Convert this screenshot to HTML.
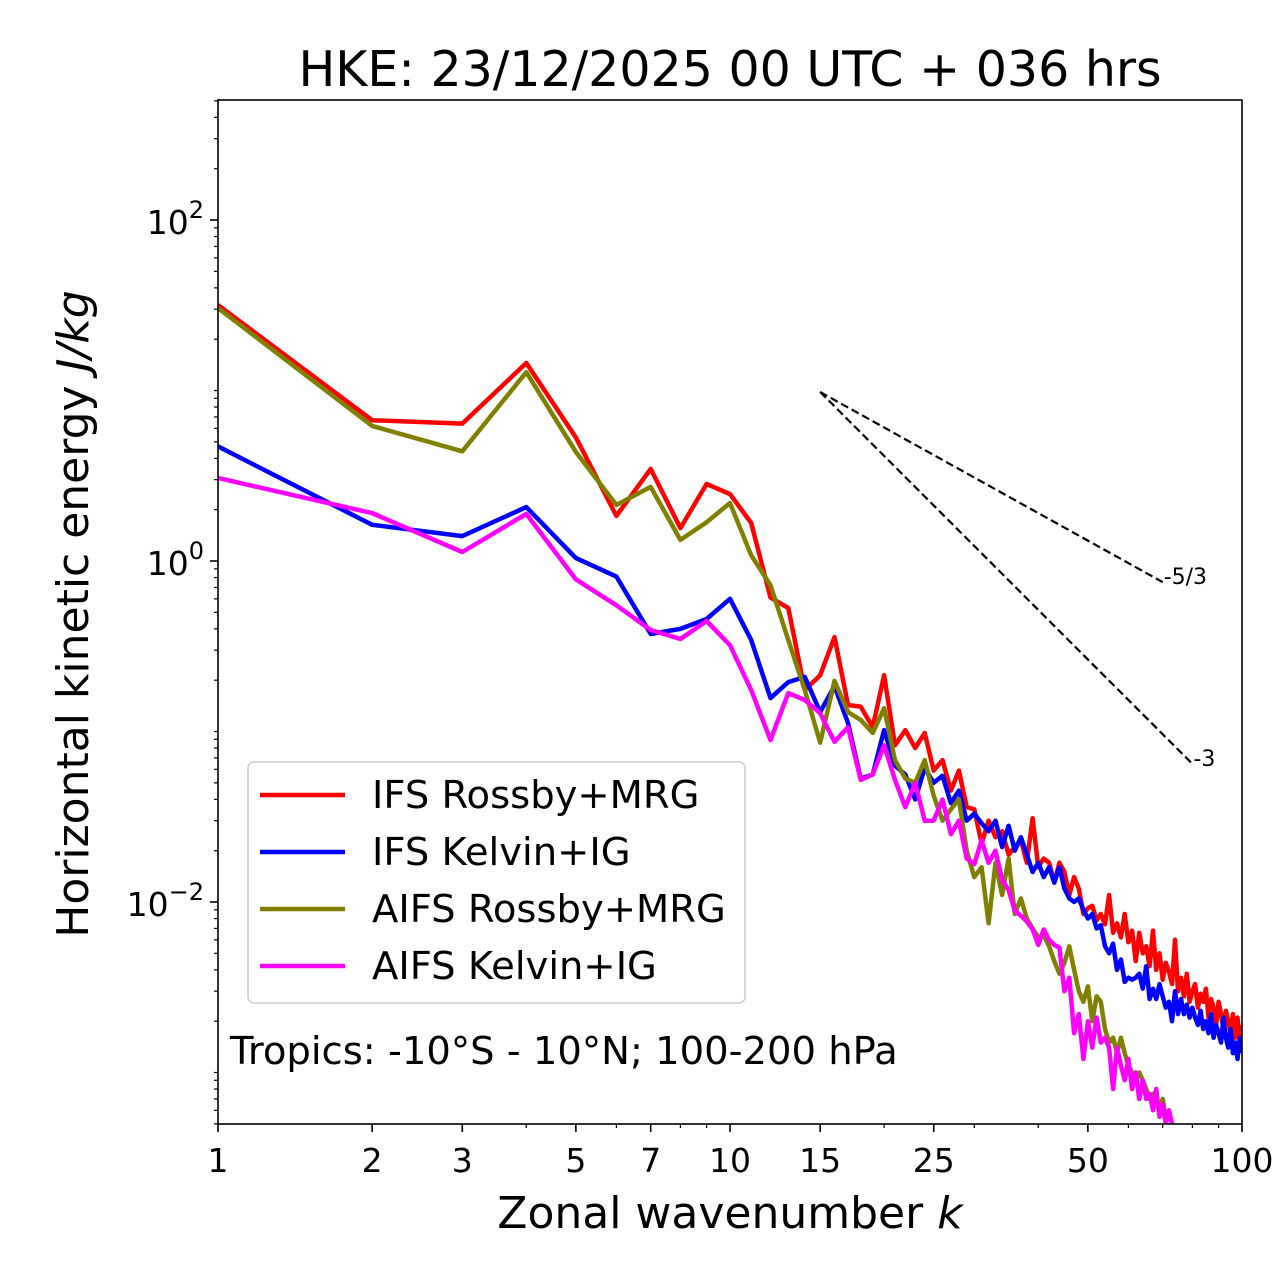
<!DOCTYPE html>
<html><head><meta charset="utf-8"><style>
html,body{margin:0;padding:0;background:#fff;}
svg{display:block;font-family:"DejaVu Sans","Liberation Sans",sans-serif;}
</style></head><body>
<svg id="chart" width="1280" height="1288" viewBox="0 0 1280 1288">
<defs><clipPath id="plotclip"><rect x="218" y="100" width="1024" height="1024"/></clipPath></defs>
<text x="730" y="86" font-size="49" text-anchor="middle">HKE: 23/12/2025 00 UTC + 036 hrs</text>
<g id="series" clip-path="url(#plotclip)"></g>
<rect x="218" y="100" width="1024" height="1024" fill="none" stroke="#000" stroke-width="1.6"/>
<g id="ticks"></g>
<text x="730" y="1228" font-size="44" text-anchor="middle">Zonal wavenumber <tspan font-style="italic">k</tspan></text>
<text transform="translate(88,614) rotate(-90)" font-size="44" text-anchor="middle">Horizontal kinetic energy <tspan font-style="italic">J/kg</tspan></text>
<g>
<rect x="248" y="762" width="497" height="241" rx="6" fill="#fff" fill-opacity="0.8" stroke="#ccc" stroke-width="1.5"/>
<g><line x1="260" y1="795" x2="345" y2="795" stroke="#ff0000" stroke-width="4.5"/><text x="372" y="808" font-size="38.5">IFS Rossby+MRG</text></g>
<g><line x1="260" y1="852" x2="345" y2="852" stroke="#0000ff" stroke-width="4.5"/><text x="372" y="865" font-size="38.5">IFS Kelvin+IG</text></g>
<g><line x1="260" y1="909" x2="345" y2="909" stroke="#808000" stroke-width="4.5"/><text x="372" y="922" font-size="38.5">AIFS Rossby+MRG</text></g>
<g><line x1="260" y1="966" x2="345" y2="966" stroke="#ff00ff" stroke-width="4.5"/><text x="372" y="979" font-size="38.5">AIFS Kelvin+IG</text></g>
</g>
<text x="230" y="1064" font-size="38.5">Tropics: -10°S - 10°N; 100-200 hPa</text>
</svg>
<script>
const ifsRossby=[31.7,6.7,6.4,14.5,5.3,1.84,3.47,1.56,2.83,2.47,1.67,0.61,0.53,0.175,0.214,0.358,0.143,0.14,0.106,0.214,0.083,0.102,0.080,0.098,0.059,0.068,0.045,0.059,0.036,0.035,
.022,.030,.024,.026,.019,.021,.023,.017,.031,.016,.018,.017,.013,.017,.015,.011,.014,.012,.0085,.0092,.0095,.0078,.0085,.0074,.011,.0066,.0075,.0062,.0085,.0058,.0068,.0045,.0066,.0050,.0055,.0042,.0068,.0040,.0050,.0035,.0044,.0039,.0033,.0060,.0030,.0036,.0028,.0038,.0026,.0030,.0033,.0024,.0029,.0026,.0031,.0021,.0027,.0024,.0019,.0026,.0022,.0018,.0023,.0020,.0017,.0022,.0016,.0021,.0015,.0019];
const ifsKelvin=[4.7,1.63,1.40,2.07,1.04,0.81,0.373,0.40,0.457,0.60,0.344,0.157,0.195,0.209,0.13,0.185,0.112,0.053,0.056,0.102,0.063,0.056,0.040,0.061,
.050,.055,.038,.045,.030,.033,.029,.026,.030,.021,.028,.020,.024,.019,.015,.017,.014,.016,.013,.016,.012,.0105,.0100,.0105,.0090,.0080,.0085,.0070,.0073,.0055,.0050,.0057,.0040,.0046,.0034,.0036,.0035,.0036,.0038,.0031,.0042,.0027,.0031,.0027,.0033,.0028,.0024,.0026,.0020,.0030,.0022,.0027,.0022,.0025,.0021,.0024,.0021,.0019,.0023,.0018,.0020,.0017,.0022,.0016,.0019,.0017,.0015,.0021,.0016,.0014,.0018,.0013,.0015,.0012,.0016,.0013];
const aifsRossby=[30.5,6.2,4.4,12.8,4.36,2.13,2.72,1.33,1.69,2.19,1.08,0.72,0.344,0.175,0.086,0.198,0.13,0.117,0.098,0.137,0.068,0.053,0.050,0.068,0.042,0.030,0.035,0.040,
.020,.014,.016,.0075,.017,.011,.018,.0085,.0105,.0080,.0070,.0062,.0064,.0055,.0045,.0038,.0044,.0055,.0040,.0030,.0026,.0032,.0020,.0028,.0026,.0018,.0015,.0016,.0013,.0016,.0013,.0011,.0010,.0009,.0010,.0009,.0008,.0007,.00075,.00065,.0006,.0007,.00055,.00058];
const aifsKelvin=[3.07,1.91,1.13,1.89,0.78,0.55,0.394,0.349,0.445,0.321,0.175,0.089,0.168,0.153,0.128,0.087,0.106,0.052,0.056,0.083,0.052,0.036,0.050,0.030,0.030,0.040,0.025,0.030,0.018,0.0167,0.023,0.017,0.020,0.0135,0.0118,0.0089,0.0083,0.0077,0.0069,0.0056,0.0069,0.0060,0.0056,0.0054,
.0030,.0036,.0017,.0022,.0012,.0020,.0014,.0021,.0015,.0016,.0014,.0008,.0014,.0011,.0009,.0012,.0008,.0010,.0007,.0009,.0007,.00075,.0006,.0008,.00055,.00065,.0005,.0006,.0005];
const xTickValues=[1,2,3,5,7,10,15,25,50,100];
const xTickLabels=["1","2","3","5","7","10","15","25","50","100"];
const yTickExponents=[-2,0,2];
const refStartK=15, refStartE=9.8;
const refSlopes=[-5/3,-3];
const refEndK=[70,80];
const refLabels=["-5/3","-3"];

const NS="http://www.w3.org/2000/svg";
const X0=218,X1=1242,Y0=100,Y1=1124;
const xMinL=0,xMaxL=2,yMinL=-3.302,yMaxL=2.704;
function xs(k){return X0+(Math.log10(k)-xMinL)/(xMaxL-xMinL)*(X1-X0);}
function ys(v){return Y1-(Math.log10(v)-yMinL)/(yMaxL-yMinL)*(Y1-Y0);}
function mk(tag,attrs,parent){const e=document.createElementNS(NS,tag);for(const a in attrs)e.setAttribute(a,attrs[a]);parent.appendChild(e);return e;}
const sg=document.getElementById('series');
const tg=document.getElementById('ticks');

const seriesList=[[ifsRossby,'#ff0000','ifs-rossby-line'],[ifsKelvin,'#0000ff','ifs-kelvin-line'],[aifsRossby,'#808000','aifs-rossby-line'],[aifsKelvin,'#ff00ff','aifs-kelvin-line']];
seriesList.forEach(s=>{
  const pts=s[0].map((v,i)=>xs(i+1).toFixed(1)+','+ys(v).toFixed(1)).join(' ');
  const p=mk('polyline',{points:pts,fill:'none',stroke:s[1],'stroke-width':4.5,'stroke-linejoin':'round'},sg);
  
  
});
refSlopes.forEach((sl,i)=>{
  const endV=refStartE*Math.pow(refEndK[i]/refStartK,sl);
  const l=mk('line',{x1:xs(refStartK),y1:ys(refStartE),x2:xs(refEndK[i]),y2:ys(endV),stroke:'#000','stroke-width':2.2,'stroke-dasharray':'8,4'},tg);
  
  
  const t=mk('text',{x:xs(refEndK[i])+1,y:ys(endV)+2,'font-size':22},tg);
  t.textContent=refLabels[i];
  
  
});
for(let d=1;d<=10;d*=10){for(let m=2;m<=9;m++){const k=m*d;if(k>100)continue;
  mk('line',{x1:xs(k),y1:Y1,x2:xs(k),y2:Y1+4,stroke:'#000','stroke-width':1.2},tg);}}
xTickValues.forEach((k,i)=>{
  const l=mk('line',{x1:xs(k),y1:Y1,x2:xs(k),y2:Y1+8,stroke:'#000','stroke-width':1.6},tg);
  
  
  const t=mk('text',{x:xs(k),y:Y1+48,'font-size':33,'text-anchor':'middle'},tg);
  t.textContent=xTickLabels[i];
  
  
});
for(let e=-4;e<=3;e++){for(let m=1;m<=9;m++){const v=m*Math.pow(10,e);const L=Math.log10(v);
  if(L<yMinL||L>yMaxL)continue; if(m===1&&e%2===0)continue;
  mk('line',{x1:X0,y1:ys(v),x2:X0-4,y2:ys(v),stroke:'#000','stroke-width':1.2},tg);}}
yTickExponents.forEach(e=>{
  const v=Math.pow(10,e);
  const l=mk('line',{x1:X0,y1:ys(v),x2:X0-8,y2:ys(v),stroke:'#000','stroke-width':1.6},tg);
  
  
  const t=mk('text',{x:X0-14,y:ys(v)+14,'font-size':33,'text-anchor':'end'},tg);
  t.textContent='10';
  const sp=mk('tspan',{dy:-16,'font-size':24},t);
  sp.textContent=(e<0?'\u2212':'')+Math.abs(e);
  
  
});
</script>
</body></html>
